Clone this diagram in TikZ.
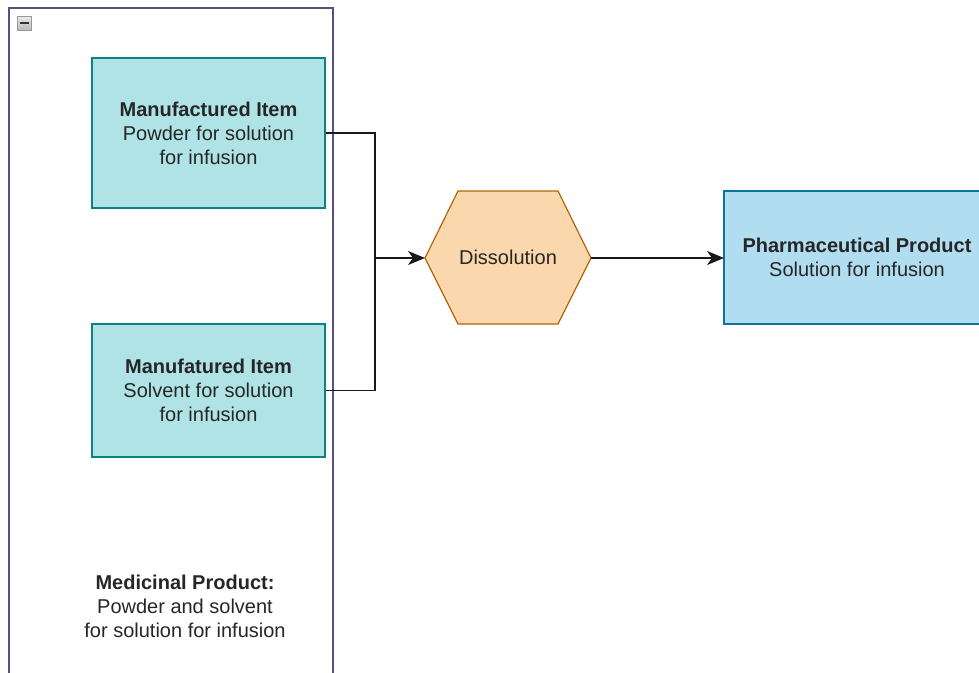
\documentclass[tikz,border=0pt]{standalone}
\usepackage{fontspec}
\setmainfont{Liberation Sans}
\usetikzlibrary{arrows.meta,shapes.geometric}
\definecolor{itemfill}{HTML}{B0E3E6}
\definecolor{itemline}{HTML}{0E8088}
\definecolor{procfill}{HTML}{FAD7AC}
\definecolor{procline}{HTML}{B46504}
\definecolor{prodfill}{HTML}{B1DDF0}
\definecolor{prodline}{HTML}{10739E}
\definecolor{groupline}{HTML}{56517E}
\begin{document}
\begin{tikzpicture}[x=1pt,y=-1pt,
  lbl/.style={font=\fontsize{20}{24}\selectfont, align=center, text=black!85},
  itembox/.style={draw=itemline, fill=itemfill, line width=1.2pt},
  conn/.style={draw=black!90, line width=1.4pt, -{Stealth[length=17pt,width=14pt,inset=5pt]}},
  plain/.style={draw=black!90, line width=1.3pt}]
\useasboundingbox (0,0) rectangle (979,672);
% group container (its lower edge runs past the page)
\draw[groupline, line width=1.2pt, fill=white] (9,8) rectangle (333,680);
% collapse toggle
\node (toggle) [draw=gray!80, line width=0.8pt, top color=gray!15, bottom color=gray!55, minimum size=14pt, inner sep=0pt] at (24,23) {};
\draw[black!80, line width=1.6pt] (19.5,23) -- (28.5,23);
% manufactured items
\node (mi1) [itembox, minimum width=233pt, minimum height=150pt] at (208.5,133) {};
\node[lbl] at (mi1.center) {\textbf{Manufactured Item}\\Powder for solution\\for infusion};
\node (mi2) [itembox, minimum width=233pt, minimum height=133pt] at (208.5,390.5) {};
\node[lbl] at (mi2.center) {\textbf{Manufatured Item}\\Solvent for solution\\for infusion};
% process step
\draw[procline, fill=procfill, line width=1.2pt] (425,258) -- (458,191) -- (558,191) -- (591,258) -- (558,324) -- (458,324) -- cycle;
\node (diss) [lbl] at (508,257) {Dissolution};
\coordinate (dissL) at (425,258);
\coordinate (dissR) at (591,258);
% pharmaceutical product
\node (pp) [draw=prodline, fill=prodfill, line width=1.2pt, minimum width=266pt, minimum height=133pt] at (857,257.5) {};
\node[lbl] at (pp.center) {\textbf{Pharmaceutical Product}\\Solution for infusion};
\coordinate (ppL) at (724,258);
% medicinal product caption
\node (mp) [lbl] at (185,606) {\textbf{Medicinal Product:}\\Powder and solvent\\for solution for infusion};
% connectors
\coordinate (join) at (375,258);
\draw[plain] (mi1.east) -| (join);
\draw[plain] (mi2.east) -| (join);
\draw[conn] (join) -- (dissL);
\draw[conn] (dissR) -- (ppL);
\end{tikzpicture}
\end{document}
